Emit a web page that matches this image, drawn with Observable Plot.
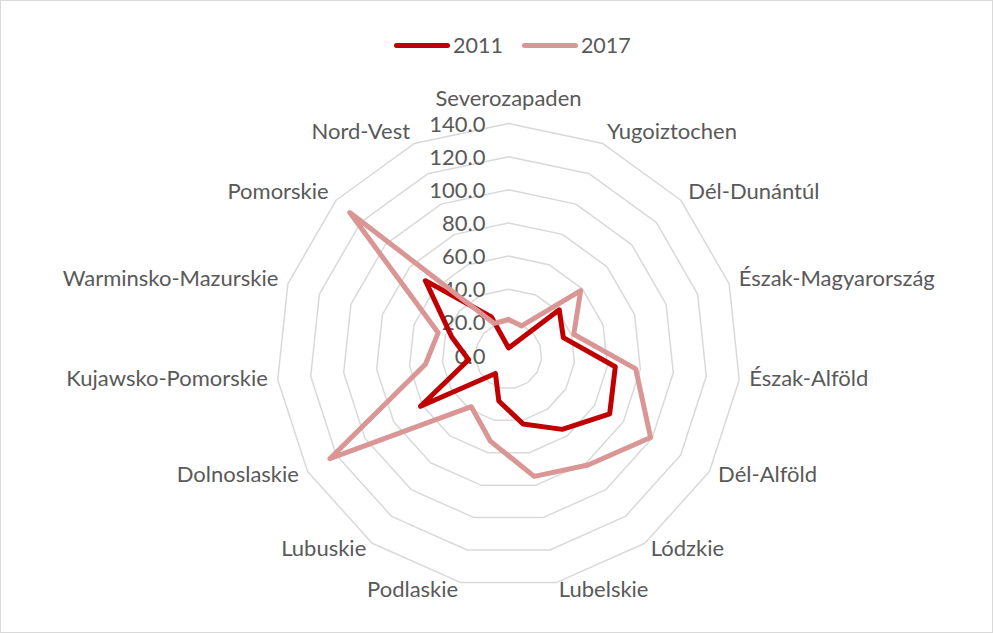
<!DOCTYPE html>
<html>
<head>
<meta charset="utf-8">
<script src="https://cdn.jsdelivr.net/npm/d3@7"></script>
<script src="https://cdn.jsdelivr.net/npm/@observablehq/plot@0.6"></script>
<style>
  html, body { margin: 0; padding: 0; background: #fff; }
  #wrap { position: relative; width: 993px; height: 633px; overflow: hidden; font-family: Lato, "Open Sans", sans-serif; }
  #frame { position: absolute; left: 0; top: 0; width: 993px; height: 633px; box-sizing: border-box; border: 1px solid #d9d9d9; pointer-events: none; }
  #legend { position: absolute; left: 394px; top: 32px; display: flex; align-items: center; font-size: 21.5px; color: #595959; }
  .sw { width: 56px; height: 5px; border-radius: 3px; margin-right: 3px; }
  .lab { margin-right: 19px; }
</style>
</head>
<body>
<div id="wrap"><div id="chart"></div><div id="legend"></div><div id="frame"></div></div>
<script>
const categories = ["Severozapaden", "Yugoiztochen", "Dél-Dunántúl", "Észak-Magyarország", "Észak-Alföld", "Dél-Alföld", "Lódzkie", "Lubelskie", "Podlaskie", "Lubuskie", "Dolnoslaskie", "Kujawsko-Pomorskie", "Warminsko-Mazurskie", "Pomorskie", "Nord-Vest"];
const values2011 = [4.6, 7.5, 41.2, 34.8, 64.8, 70.5, 55.1, 42.2, 28.1, 13.4, 61.3, 24.2, 36.0, 67.5, 25.4];
const values2017 = [21.8, 19.5, 58.6, 41.4, 77.2, 99.0, 81.7, 74.6, 52.8, 38.2, 124.5, 50.4, 44.6, 128.9, 21.2];
const seriesNames = ["2011", "2017"];
const seriesColors = ["#C00000", "#D99694"];
const tickValues = [0, 20, 40, 60, 80, 100, 120, 140];
const tickLabels = ["0.0", "20.0", "40.0", "60.0", "80.0", "100.0", "120.0", "140.0"];

const W = 993, H = 633, CX = 508, CY = 355, RPX = 232;
const maxV = 140;
const k = RPX / maxV;
const n = categories.length;
const ang = i => 2 * Math.PI * i / n;
const px = (i, r) => r * Math.sin(ang(i));
const py = (i, r) => r * Math.cos(ang(i));

const rings = [];
for (const t of tickValues.filter(t => t > 0)) {
  for (let i = 0; i <= n; i++) rings.push({tick: t, i: i % n});
}
const seriesRows = [];
[values2011, values2017].forEach((vals, s) => {
  for (let i = 0; i <= n; i++) seriesRows.push({series: seriesNames[s], i: i % n, v: vals[i % n]});
});
const labelR = maxV + 10 / k;
const catRows = categories.map((c, i) => ({c, i}));
const fontFamily = "Lato, 'Open Sans', sans-serif";
const fs = 22;
const txtColor = "#595959";

const chart = Plot.plot({
  width: W, height: H, margin: 0,
  x: {type: "linear", domain: [-CX / k, (W - CX) / k], range: [0, W], axis: null},
  y: {type: "linear", domain: [-(H - CY) / k, CY / k], range: [H, 0], axis: null},
  color: {domain: seriesNames, range: seriesColors},
  style: {background: "transparent"},
  marks: [
    Plot.line(rings, {x: d => px(d.i, d.tick), y: d => py(d.i, d.tick), z: "tick", stroke: "#d9d9d9", strokeWidth: 1.5}),
    Plot.text(tickValues, {x: () => 0, y: d => d, text: (d, i) => tickLabels[i], dx: -23, dy: 1, textAnchor: "end", fill: txtColor, fontSize: fs, fontFamily}),
    Plot.line(seriesRows, {x: d => px(d.i, d.v), y: d => py(d.i, d.v), z: "series", stroke: "series", strokeWidth: 5, strokeLinejoin: "round", strokeLinecap: "round"}),
    Plot.text(catRows.filter(d => d.i === 0), {x: d => px(d.i, labelR), y: d => py(d.i, labelR), text: "c", textAnchor: "middle", lineAnchor: "bottom", dy: -8, fill: txtColor, fontSize: fs, fontFamily}),
    Plot.text(catRows.filter(d => d.i > 0 && d.i <= 7), {x: d => px(d.i, labelR), y: d => py(d.i, labelR), text: "c", textAnchor: "start", lineAnchor: "middle", dy: -2, fill: txtColor, fontSize: fs, fontFamily}),
    Plot.text(catRows.filter(d => d.i > 7), {x: d => px(d.i, labelR), y: d => py(d.i, labelR), text: "c", textAnchor: "end", lineAnchor: "middle", dy: -2, fill: txtColor, fontSize: fs, fontFamily})
  ]
});
document.getElementById("chart").appendChild(chart);

const legend = document.getElementById("legend");
seriesNames.forEach((s, i) => {
  const sw = document.createElement("div");
  sw.className = "sw";
  sw.style.background = seriesColors[i];
  const lab = document.createElement("span");
  lab.className = "lab";
  lab.textContent = s;
  legend.appendChild(sw);
  legend.appendChild(lab);
});
</script>
</body>
</html>
